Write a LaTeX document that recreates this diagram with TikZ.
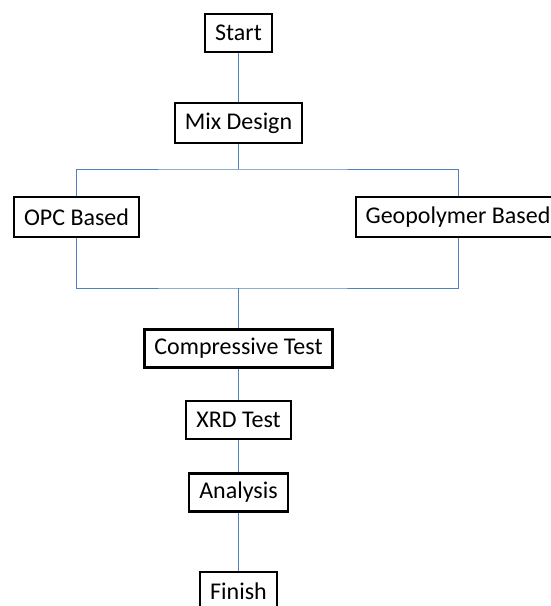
\documentclass[tikz,border=0pt]{standalone}
\usepackage{fontspec}
\setmainfont{Carlito}
\usetikzlibrary{calc}
\definecolor{linkblue}{RGB}{79,129,189}
\tikzset{
 stepbox/.style={draw=black, line width=2.2pt, fill=white, inner xsep=10pt, inner ysep=0pt,
   minimum height=38pt, font=\fontsize{24}{28}\selectfont},
 link/.style={linkblue, line width=1pt}
}
\begin{document}
\begin{tikzpicture}[x=1pt,y=1pt]
\useasboundingbox (0,0) rectangle (551,-606);
\clip (0,0) rectangle (551,-606);
% boxes
\node[stepbox] (start) at (238.5,-33) {Start};
\node[stepbox, minimum height=40pt] (mix) at (238.5,-123) {Mix Design};
\node[stepbox, minimum height=40pt] (opc) at (76.5,-217) {OPC Based};
\node[stepbox, minimum height=40pt] (geo) at (458,-217) {Geopolymer Based};
\node[stepbox] (comp) at (238.5,-348.5) {Compressive Test};
\node[stepbox] (xrd) at (238.5,-420) {XRD Test};
\node[stepbox] (ana) at (238.5,-492.5) {Analysis};
\node[stepbox] (fin) at (238.5,-591) {Finish};
\coordinate (split) at (238.5,-169);
\coordinate (merge) at (238.5,-288);
% links
\draw[link] (start) -- (mix);
\draw[link] (mix) -- (split);
\draw[link] (opc.north) |- (split) -| (geo.north);
\draw[link] (opc.south) |- (merge) -| (geo.south);
\draw[link] (merge) -- (comp);
\foreach \a/\b in {comp/xrd, xrd/ana, ana/fin}
 \draw[link] (\a) -- (\b);
\end{tikzpicture}
\end{document}
